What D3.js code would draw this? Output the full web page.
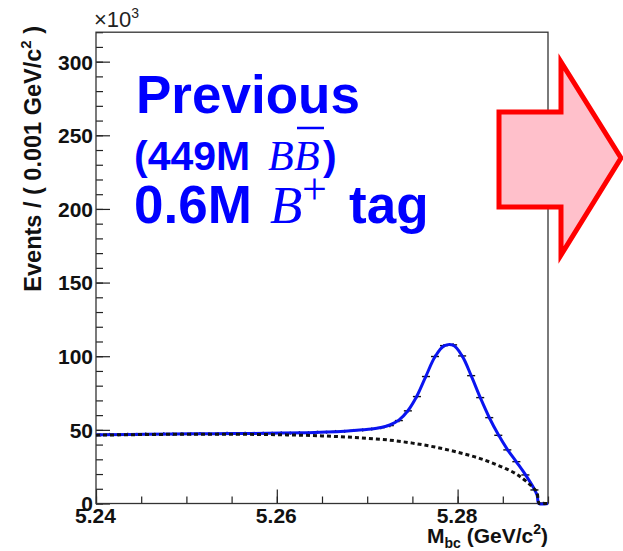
<!DOCTYPE html>
<html><head><meta charset="utf-8">
<script src="https://cdn.jsdelivr.net/npm/d3@7"></script>
<style>
body{margin:0;background:#fff;}
svg{display:block;}
</style></head>
<body><svg id="c" width="623" height="551"></svg>
<script>
// ---- data ----
const binCenters = [5.2405,5.2415,5.2425,5.2435,5.2445,5.2455,5.2465,5.2475,5.2485,5.2495,
  5.2505,5.2515,5.2525,5.2535,5.2545,5.2555,5.2565,5.2575,5.2585,5.2595,
  5.2605,5.2615,5.2625,5.2635,5.2645,5.2655,5.2665,5.2675,5.2685,5.2695,
  5.2705,5.2715,5.2725,5.2735,5.2745,5.2755,5.2765,5.2775,5.2785,5.2795,
  5.2805,5.2815,5.2825,5.2835,5.2845,5.2855,5.2865,5.2875,5.2885,5.2895];
const dataEvents = [46.5,46.9,46.7,47.0,46.9,47.2,47.0,47.3,47.1,47.4,
  47.2,47.5,47.3,47.4,47.6,47.4,47.6,47.5,47.7,47.6,
  47.9,47.8,48.1,48.0,48.4,48.4,48.9,49.0,49.6,49.9,
  50.6,51.5,52.9,56.3,62.9,72.6,86.2,99.8,107.2,107.7,
  100.2,86.8,71.9,58.3,46.3,36.4,28.4,19.4,9.2,0.3];
const dataErrors = [0.22,0.22,0.22,0.22,0.22,0.22,0.22,0.22,0.22,0.22,
  0.22,0.22,0.22,0.22,0.22,0.22,0.22,0.22,0.22,0.22,
  0.22,0.22,0.22,0.22,0.22,0.22,0.22,0.22,0.22,0.22,
  0.23,0.23,0.23,0.24,0.25,0.27,0.29,0.32,0.33,0.33,
  0.32,0.29,0.27,0.24,0.22,0.19,0.17,0.14,0.10,0.05];
const fitMass = [5.24,5.2405,5.2455,5.2505,5.2555,5.2605,5.2635,5.2655,5.2675,5.2695,
  5.2705,5.2715,5.2725,5.2735,5.2745,5.2755,5.2765,5.2775,5.2785,5.2795,
  5.2805,5.2815,5.2825,5.2835,5.2845,5.2855,5.2865,5.2875,5.2885,5.2888,5.289,5.29];
const fitTotal = [46.6,46.6,47.0,47.3,47.5,47.8,48.1,48.5,49.1,50.0,
  50.6,51.6,53.3,56.6,63.0,73.0,86.5,99.6,107.0,107.5,
  100.2,86.8,72.0,58.4,46.8,36.8,28.3,19.6,9.6,5.5,0,0];
const bkgMass = [5.24,5.245,5.25,5.255,5.26,5.265,5.27,5.2725,5.275,5.2775,5.28,5.2825,5.285,5.2865,5.2875,5.2883,5.2888,5.289,5.29];
const bkgTotal = [46.4,46.8,47.0,47.0,46.7,45.9,44.3,43.0,41.0,38.3,34.8,30.5,24.5,20.0,15.5,11.0,7.0,0,0];
const xMajorTicks = [5.24,5.26,5.28];
const xTickLabels = ["5.24","5.26","5.28"];
const yMajorTicks = [0,50,100,150,200,250,300];
const yTickLabels = ["0","50","100","150","200","250","300"];

// ---- layout ----
const SANS = "'Liberation Sans',Arial,Helvetica,sans-serif";
const SERIF = "'Liberation Serif','Times New Roman',serif";
const svg = d3.select("#c");
const L=96, R=548, T=32.2, B=503.5;
const x = d3.scaleLinear().domain([5.24,5.29]).range([L,R]);
const y = d3.scaleLinear().domain([0,320]).range([B,T]);

// minor ticks
const xMinor = d3.range(5.24,5.29001,0.005).map(v=>+v.toFixed(3));
const yMinor = d3.range(0,321,10);
svg.append("g").attr("transform",`translate(0,${B})`)
  .call(d3.axisBottom(x).tickValues(xMinor).tickSize(-7).tickFormat(""))
  .call(g=>g.select(".domain").remove())
  .selectAll("line").attr("stroke","#222").attr("stroke-width",1.2);
svg.append("g").attr("transform",`translate(${L},0)`)
  .call(d3.axisLeft(y).tickValues(yMinor).tickSize(-7).tickFormat(""))
  .call(g=>g.select(".domain").remove())
  .selectAll("line").attr("stroke","#222").attr("stroke-width",1.2);
// major ticks
const gx = svg.append("g").attr("transform",`translate(0,${B})`)
  .call(d3.axisBottom(x).tickValues(xMajorTicks).tickSize(-14).tickPadding(6)
        .tickFormat((d,i)=>xTickLabels[i]));
gx.select(".domain").remove();
gx.selectAll("line").attr("stroke","#222").attr("stroke-width",1.2);
gx.selectAll("text").style("font-family",SANS).style("font-size","21px").style("font-weight","bold")
  .attr("fill","#111").attr("y",19).attr("dy",0).attr("dx",-1);
const gy = svg.append("g").attr("transform",`translate(${L},0)`)
  .call(d3.axisLeft(y).tickValues(yMajorTicks).tickSize(-14).tickPadding(3)
        .tickFormat((d,i)=>yTickLabels[i]));
gy.select(".domain").remove();
gy.selectAll("line").attr("stroke","#222").attr("stroke-width",1.2);
gy.selectAll("text").style("font-family",SANS).style("font-size","21px").style("font-weight","bold")
  .attr("fill","#111").attr("dy","0.35em");

// frame
svg.append("rect").attr("x",L).attr("y",T).attr("width",R-L).attr("height",B-T)
  .attr("fill","none").attr("stroke","#333").attr("stroke-width",1.3);

// data points
const bw = x(5.241)-x(5.24);
const pts = svg.append("g");
binCenters.forEach((m,i)=>{
  const cx=x(m), cy=y(dataEvents[i]);
  pts.append("line").attr("x1",cx-bw/2+0.5).attr("x2",cx+bw/2-0.5).attr("y1",cy).attr("y2",cy)
    .attr("stroke","#111").attr("stroke-width",1.4);
  pts.append("line").attr("x1",cx).attr("x2",cx)
    .attr("y1",y(dataEvents[i]+dataErrors[i])-1.2).attr("y2",y(dataEvents[i]-dataErrors[i])+1.2)
    .attr("stroke","#111").attr("stroke-width",1.4);
});

// fit curve
const lineFit = d3.line().x((d,i)=>x(fitMass[i])).y((d,i)=>y(fitTotal[i])).curve(d3.curveCatmullRom.alpha(0.5));
svg.append("path").attr("d",lineFit(fitMass)).attr("fill","none").attr("stroke","#0a14f0").attr("stroke-width",3);
// background
const lineBkg = d3.line().x((d,i)=>x(bkgMass[i])).y((d,i)=>y(bkgTotal[i])).curve(d3.curveMonotoneX);
svg.append("path").attr("d",lineBkg(bkgMass)).attr("fill","none").attr("stroke","#111")
  .attr("stroke-width",3).attr("stroke-dasharray","4,3");

// exponent
const ex = svg.append("text").attr("x",94).attr("y",27).style("font-family",SANS).style("font-size","22px").attr("fill","#222");
ex.append("tspan").text("×10");
ex.append("tspan").style("font-size","14px").attr("dy",-9).text("3");

// axis titles
const yt = svg.append("text").attr("transform","translate(41,26) rotate(-90)")
  .attr("text-anchor","end").style("font-family",SANS).style("font-size","23.5px").style("font-weight","bold").attr("fill","#111");
yt.append("tspan").text("Events / ( 0.001 GeV/c");
yt.append("tspan").style("font-size","15px").attr("dy",-10).text("2");
yt.append("tspan").attr("dy",10).text(" )");

const xt = svg.append("text").attr("x",548).attr("y",543).attr("text-anchor","end")
  .style("font-family",SANS).style("font-size","21px").style("font-weight","bold").attr("fill","#111");
xt.append("tspan").text("M");
xt.append("tspan").style("font-size","14px").attr("dy",5).text("bc");
xt.append("tspan").attr("dy",-5).text(" (GeV/c");
xt.append("tspan").style("font-size","14px").attr("dy",-9).text("2");
xt.append("tspan").attr("dy",9).text(")");

// blue annotation
const blue="#0000ff";
function bt(xx,yy,size,txt,opts){
  const t=svg.append("text").attr("x",xx).attr("y",yy).attr("fill",blue)
    .style("font-size",size+"px").style("font-family",opts&&opts.serif?SERIF:SANS)
    .style("font-weight",opts&&opts.serif?"normal":"bold").style("font-style",opts&&opts.italic?"italic":"normal").text(txt);
  return t;
}
bt(136,113,53,"Previous");
bt(134,170,41,"(449M");
bt(268,170,42,"B",{serif:true,italic:true});
bt(294,170,42,"B",{serif:true,italic:true});
svg.append("line").attr("x1",297).attr("x2",324).attr("y1",128).attr("y2",128).attr("stroke",blue).attr("stroke-width",2.5);
bt(323,170,41,")");
bt(134,223,53,"0.6M");
bt(270,223,53,"B",{serif:true,italic:true});
bt(302,204,44,"+",{serif:true});
bt(349,223,53,"tag");

// arrow
svg.append("path").attr("d","M499,112 L561,112 L561,62 L621,158 L561,255 L561,207 L499,207 Z")
  .attr("fill","#ffc0cb").attr("stroke","#ff0000").attr("stroke-width",5).attr("stroke-linejoin","miter");
</script></body></html>
